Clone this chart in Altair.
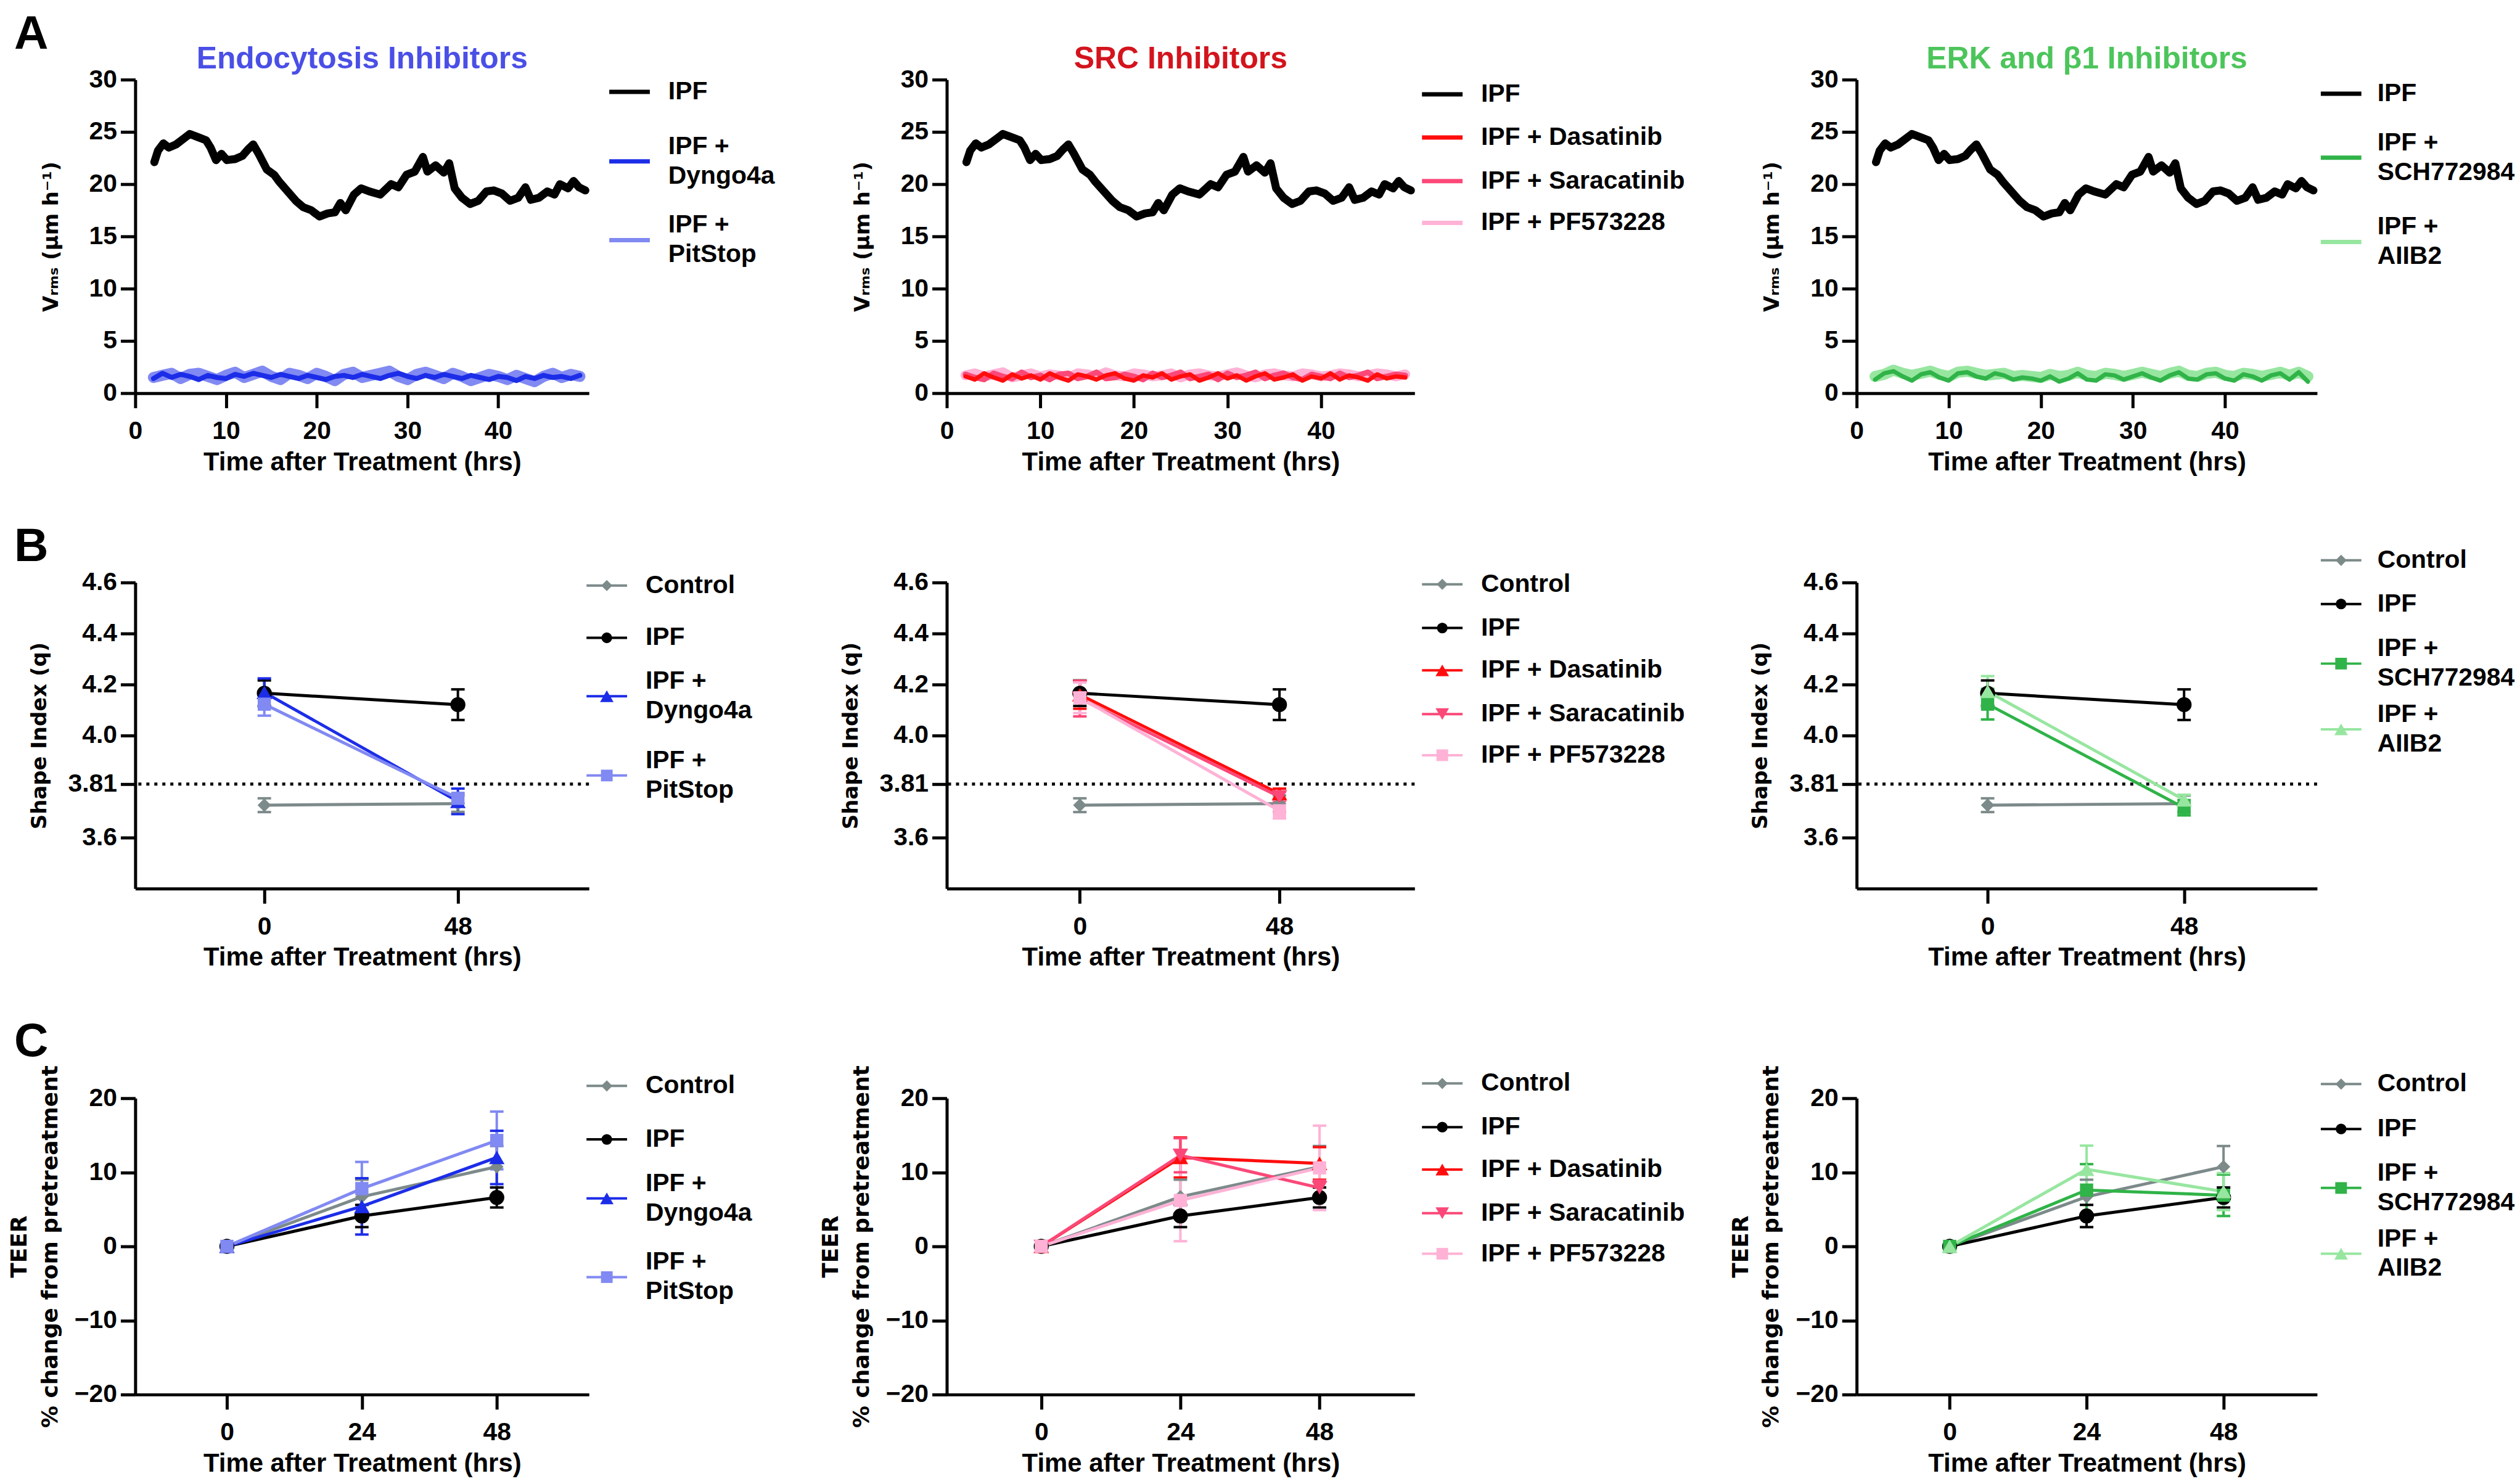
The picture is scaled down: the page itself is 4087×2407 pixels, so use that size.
import altair as alt
import pandas as pd

FONT = "Liberation Sans, Arial, Helvetica, sans-serif"
WIDE = "DejaVu Sans, Verdana, sans-serif"

# ---------------- colours ----------------
BLACK = "#000000"
GREY = "#7d8a8a"
BLUE = "#1c2de8"
LIGHT_BLUE = "#8189f2"
RED = "#ff0d0d"
ROSE = "#fb4878"
PINK = "#ffb2d6"
GREEN = "#30b348"
LIGHT_GREEN = "#97e6a0"
TITLE_BLUE = "#4a4fe6"
TITLE_RED = "#d3141d"
TITLE_GREEN = "#4cc55b"

# ---------------- panel A : V_RMS time courses ----------------
VRMS_IPF_T = [2.1, 2.5, 3.1, 3.7, 4.5, 5.4, 6.0, 6.9, 7.8, 8.3, 8.9, 9.5, 10.1, 11.0, 11.8,
              12.4, 13.0, 13.6, 14.5, 15.3, 15.9, 16.8, 17.7, 18.5, 19.4, 20.3, 21.2, 22.0,
              22.6, 23.2, 24.1, 24.9, 25.8, 27.0, 28.2, 29.0, 29.9, 30.8, 31.7, 32.2, 33.1,
              34.0, 34.6, 35.2, 36.0, 36.9, 37.8, 38.7, 39.5, 40.4, 41.3, 42.2, 43.0, 43.6,
              44.5, 45.4, 46.2, 46.8, 47.7, 48.3, 48.9, 49.6]
VRMS_IPF = [22.1, 23.2, 23.9, 23.5, 23.8, 24.4, 24.8, 24.5, 24.2, 23.5, 22.3, 22.9, 22.3, 22.4,
            22.7, 23.3, 23.8, 22.9, 21.4, 20.9, 20.2, 19.3, 18.4, 17.8, 17.5, 16.9, 17.2, 17.3,
            18.2, 17.5, 19.0, 19.6, 19.3, 19.0, 20.0, 19.7, 20.9, 21.2, 22.6, 21.2, 21.8, 21.1,
            22.0, 19.6, 18.7, 18.1, 18.4, 19.3, 19.4, 19.1, 18.4, 18.7, 19.7, 18.5, 18.7, 19.3,
            19.0, 20.0, 19.6, 20.3, 19.7, 19.4]
VRMS_T = [2, 3, 4, 5, 6, 7, 8, 9, 10, 11, 12, 13, 14, 15, 16, 17, 18, 19, 20, 21, 22, 23, 24, 25,
          26, 27, 28, 29, 30, 31, 32, 33, 34, 35, 36, 37, 38, 39, 40, 41, 42, 43, 44, 45, 46, 47,
          48, 49]
VRMS_DYNGO = [1.4, 1.9, 1.5, 1.8, 1.6, 1.3, 1.7, 1.5, 1.4, 1.8, 1.6, 1.9, 1.7, 1.5, 1.8, 1.6,
              1.4, 1.7, 1.5, 1.3, 1.6, 1.7, 1.5, 1.8, 1.6, 1.4, 1.7, 1.9, 1.6, 1.4, 1.7, 1.5,
              1.8, 1.6, 1.4, 1.7, 1.5, 1.3, 1.6, 1.5, 1.2, 1.6, 1.4, 1.7, 1.5, 1.6, 1.4, 1.7]
VRMS_PITSTOP = [1.5, 1.7, 1.9, 1.4, 1.8, 1.9, 1.6, 1.3, 1.7, 2.0, 1.5, 1.8, 2.1, 1.6, 1.3, 1.9,
                1.7, 1.4, 1.9, 1.6, 1.2, 1.8, 2.0, 1.5, 1.7, 1.9, 2.1, 1.6, 1.3, 1.8, 2.0, 1.7,
                1.4, 1.9, 1.6, 1.2, 1.5, 1.8, 1.6, 1.3, 1.7, 1.4, 1.1, 1.6, 1.9, 1.5, 1.8, 1.6]
VRMS_DASATINIB = [1.6, 1.3, 1.9, 1.5, 1.2, 1.8, 1.4, 1.7, 1.3, 1.9, 1.5, 1.2, 1.8, 1.6, 1.3, 1.7,
                  1.9, 1.4, 1.2, 1.7, 1.5, 1.9, 1.3, 1.6, 1.8, 1.2, 1.5, 1.9, 1.4, 1.7, 1.2, 1.6,
                  1.9, 1.3, 1.5, 1.8, 1.2, 1.6, 1.4, 1.9, 1.3, 1.7, 1.5, 1.2, 1.8, 1.4, 1.6, 1.5]
VRMS_SARACATINIB = [1.8, 1.5, 1.3, 1.9, 1.6, 1.4, 2.0, 1.5, 1.7, 1.3, 1.8, 1.9, 1.4, 1.6, 2.0, 1.4,
                    1.5, 1.8, 1.6, 1.3, 1.9, 1.5, 1.7, 2.0, 1.4, 1.6, 1.8, 1.3, 1.9, 1.5, 1.7, 2.0,
                    1.4, 1.7, 1.9, 1.5, 1.3, 1.8, 1.6, 1.4, 1.9, 1.5, 1.7, 2.0, 1.4, 1.6, 1.8, 1.7]
VRMS_PF = [1.7, 1.9, 1.6, 1.8, 2.0, 1.5, 1.7, 1.9, 1.6, 1.8, 1.7, 1.5, 1.9, 1.8, 1.6, 2.0,
           1.7, 1.6, 1.9, 1.8, 1.6, 1.7, 1.9, 1.5, 1.8, 1.9, 1.7, 1.6, 1.8, 2.0, 1.7, 1.5,
           1.8, 1.9, 1.7, 1.6, 1.9, 1.8, 1.6, 1.7, 1.9, 1.8, 1.6, 1.7, 1.9, 1.8, 1.6, 1.8]
VRMS_SCH = [1.3, 1.9, 2.1, 1.6, 1.2, 1.8, 2.0, 1.5, 1.2, 1.9, 2.0, 1.6, 1.4, 1.9, 1.7, 1.3,
            1.5, 1.4, 1.2, 1.6, 1.1, 1.4, 1.9, 1.3, 1.2, 1.8, 1.7, 1.3, 1.6, 1.9, 1.5, 1.2,
            1.7, 2.0, 1.4, 1.3, 1.8, 1.9, 1.4, 1.2, 1.8, 1.6, 1.2, 1.7, 1.9, 1.3, 2.0, 1.1]
VRMS_AIIB2 = [1.6, 1.8, 2.2, 1.9, 1.7, 1.9, 2.1, 1.8, 1.6, 2.0, 2.1, 1.9, 1.7, 1.8, 1.9, 1.6,
              1.7, 1.6, 1.5, 1.8, 1.6, 1.7, 2.0, 1.7, 1.6, 1.9, 1.8, 1.6, 1.8, 2.0, 1.8, 1.6,
              1.9, 2.1, 1.7, 1.6, 1.9, 2.0, 1.7, 1.6, 1.9, 1.8, 1.6, 1.8, 2.0, 1.7, 2.0, 1.6]

# ---------------- panel B : shape index ----------------
SHAPE_T = [0, 48]
SHAPE_CONTROL = [3.727, 3.733]
SHAPE_CONTROL_ERR = [0.027, 0.032]
SHAPE_IPF = [4.166, 4.121]
SHAPE_IPF_ERR = [0.05, 0.06]
SHAPE_DYNGO = [4.169, 3.742]
SHAPE_DYNGO_ERR = [0.055, 0.05]
SHAPE_PITSTOP = [4.123, 3.754]
SHAPE_PITSTOP_ERR = [0.045, 0.02]
SHAPE_DASATINIB = [4.16, 3.772]
SHAPE_DASATINIB_ERR = [0.055, 0.02]
SHAPE_SARACATINIB = [4.145, 3.76]
SHAPE_SARACATINIB_ERR = [0.07, 0.02]
SHAPE_PF = [4.148, 3.705]
SHAPE_PF_ERR = [0.06, 0.03]
SHAPE_SCH = [4.123, 3.717]
SHAPE_SCH_ERR = [0.06, 0.03]
SHAPE_AIIB2 = [4.173, 3.748]
SHAPE_AIIB2_ERR = [0.06, 0.02]
SHAPE_TICKS = [3.6, 3.81, 4.0, 4.2, 4.4, 4.6]

# ---------------- panel C : TEER ----------------
TEER_T = [0, 24, 48]
TEER_CONTROL = [0, 6.7, 10.75]
TEER_CONTROL_ERR = [0, 2.3, 2.8]
TEER_IPF = [0, 4.1, 6.6]
TEER_IPF_ERR = [0, 1.5, 1.35]
TEER_DYNGO = [0, 5.4, 12.0]
TEER_DYNGO_ERR = [0, 3.8, 3.6]
TEER_PITSTOP = [0, 7.8, 14.3]
TEER_PITSTOP_ERR = [0, 3.6, 3.9]
TEER_DASATINIB = [0, 12.0, 11.2]
TEER_DASATINIB_ERR = [0, 2.7, 2.2]
TEER_SARACATINIB = [0, 12.3, 7.9]
TEER_SARACATINIB_ERR = [0, 2.3, 1.0]
TEER_PF = [0, 6.2, 10.6]
TEER_PF_ERR = [0, 5.5, 5.7]
TEER_SCH = [0, 7.6, 6.9]
TEER_SCH_ERR = [0, 3.5, 2.8]
TEER_AIIB2 = [0, 10.4, 7.4]
TEER_AIIB2_ERR = [0, 3.2, 2.5]

XTITLE = "Time after Treatment (hrs)"
VRMS_TITLE = "V\u1d63\u2098\u209b (\u03bcm h\u207b\u00b9)"
LEGEND_MARKER_SIZE = {"diamond": 330, "circle": 300, "square": 360, "triangle-up": 480,
                      "triangle-down": 480}
PLOT_MARKER_SIZE = {"diamond": 480, "circle": 600, "square": 460, "triangle-up": 640,
                    "triangle-down": 640}


def long_df(names, times, values, errs=None):
    rows = []
    for i, name in enumerate(names):
        for j, t in enumerate(times[i]):
            v = values[i][j]
            r = {"g": name, "t": t, "v": v}
            if errs is not None:
                r["lo"] = v - errs[i][j]
                r["hi"] = v + errs[i][j]
            rows.append(r)
    return pd.DataFrame(rows)


ONE = pd.DataFrame({"k": [0]})


def text_layer(text, x, y, size, color, opacity=1.0, align="left", baseline="alphabetic"):
    return alt.Chart(ONE).mark_text(
        text=text, font=FONT, fontSize=size, fontWeight="bold", color=color,
        opacity=opacity, align=align, baseline=baseline
    ).encode(x=alt.value(x), y=alt.value(y))


def legend_layers(names, colors, shapes, lx, centers, two_line, off, lw):
    """Key to the right of a panel: a line (with its marker) and the group name."""
    out = []
    for name, color, shp, yc in zip(names, colors, shapes, centers):
        out.append(alt.Chart(ONE).mark_rule(color=color, strokeWidth=lw).encode(
            x=alt.value(lx), x2=alt.value(lx + 66), y=alt.value(yc)))
        if shp:
            out.append(alt.Chart(ONE).mark_point(
                shape=shp, filled=True, opacity=1, color=color,
                size=LEGEND_MARKER_SIZE[shp]).encode(x=alt.value(lx + 33), y=alt.value(yc)))
        tx = lx + 66 + off
        if two_line and " + " in name:
            out.append(text_layer("IPF +", tx, yc - 24, 41, BLACK, baseline="middle"))
            out.append(text_layer(name[6:], tx, yc + 24, 41, BLACK, baseline="middle"))
        else:
            out.append(text_layer(name, tx, yc, 41, BLACK, baseline="middle"))
    return out


def panel_a(names, colors, widths, draw_order, times, values, title, title_color,
            w, h, letter, letter_x, letter_vis, lx, centers, two_line, off=30):
    df = long_df(names, times, values)
    xs = alt.X("t:Q", scale=alt.Scale(domain=[0, 50], nice=False, zero=False),
               axis=alt.Axis(values=[0, 10, 20, 30, 40], title=XTITLE))
    ys = alt.Y("v:Q", scale=alt.Scale(domain=[0, 30], nice=False),
               axis=alt.Axis(values=[0, 5, 10, 15, 20, 25, 30], title=VRMS_TITLE, titlePadding=44))
    col = alt.Color("g:N", scale=alt.Scale(domain=names, range=colors), legend=None)
    layers = []
    for name in draw_order:
        sw = widths[names.index(name)]
        layers.append(alt.Chart(df).transform_filter(alt.datum.g == name).mark_line(
            strokeWidth=sw, strokeJoin="round", strokeCap="round").encode(x=xs, y=ys, color=col))
    layers += legend_layers(names, colors, [None] * len(names), lx, centers, two_line, off, 7)
    layers.append(text_layer(letter, letter_x, -50, 77, BLACK, 1.0 if letter_vis else 0.0))
    layers.append(text_layer(title, w / 2, -18, 50, title_color, align="center"))
    return alt.layer(*layers).properties(width=w, height=h)


def panel_pts(kind, names, colors, shapes, values, errs, w, h,
              letter, letter_x, letter_y, letter_vis, lx, centers, two_line, off=30):
    if kind == "B":
        times = SHAPE_T
        xs_scale = alt.Scale(domain=[-32, 80.5], nice=False, zero=False)
        xvals = [0, 48]
        ys_scale = alt.Scale(domain=[3.4, 4.6], nice=False, zero=False)
        yaxis = alt.Axis(values=SHAPE_TICKS, title="Shape Index (q)", titlePadding=29,
                         labelExpr="datum.value == 3.81 ? '3.81' : format(datum.value, '.1f')")
    else:
        times = TEER_T
        xs_scale = alt.Scale(domain=[-16.3, 64.4], nice=False, zero=False)
        xvals = [0, 24, 48]
        ys_scale = alt.Scale(domain=[-20, 20], nice=False)
        yaxis = alt.Axis(values=[-20, -10, 0, 10, 20], title=["TEER", "% change from pretreatment"],
                         titlePadding=20, titleLineHeight=50, titleFontSize=36)
    df = long_df(names, [times] * len(names), values, errs)
    xaxis = alt.Axis(values=xvals, title=XTITLE)

    def X(f="t"):
        return alt.X(f + ":Q", scale=xs_scale, axis=xaxis)

    def Y(f):
        return alt.Y(f + ":Q", scale=ys_scale, axis=yaxis)

    col = alt.Color("g:N", scale=alt.Scale(domain=names, range=colors), legend=None)
    base = alt.Chart(df)
    layers = []
    if kind == "B":
        layers.append(alt.Chart(pd.DataFrame({"v": [3.81]})).mark_rule(
            color=BLACK, strokeDash=[5, 8], strokeWidth=5).encode(y=Y("v")))
    layers.append(base.mark_rule(strokeWidth=4).encode(x=X(), y=Y("lo"), y2="hi:Q", color=col))
    layers.append(base.mark_tick(orient="horizontal", size=22, thickness=4, opacity=1).encode(
        x=X(), y=Y("lo"), color=col))
    layers.append(base.mark_tick(orient="horizontal", size=22, thickness=4, opacity=1).encode(
        x=X(), y=Y("hi"), color=col))
    layers.append(base.mark_line(strokeWidth=5).encode(x=X(), y=Y("v"), color=col))
    for name, shp in zip(names, shapes):
        layers.append(base.transform_filter(alt.datum.g == name).mark_point(
            filled=True, opacity=1, shape=shp, size=PLOT_MARKER_SIZE[shp]).encode(
            x=X(), y=Y("v"), color=col))
    layers += legend_layers(names, colors, shapes, lx, centers, two_line, off, 4)
    layers.append(text_layer(letter, letter_x, letter_y, 77, BLACK, 1.0 if letter_vis else 0.0))
    return alt.layer(*layers).properties(width=w, height=h)


# ---------------- groups ----------------
A1_NAMES = ["IPF", "IPF + Dyngo4a", "IPF + PitStop"]
A2_NAMES = ["IPF", "IPF + Dasatinib", "IPF + Saracatinib", "IPF + PF573228"]
A3_NAMES = ["IPF", "IPF + SCH772984", "IPF + AIIB2"]
B1_NAMES = ["Control", "IPF", "IPF + Dyngo4a", "IPF + PitStop"]
B2_NAMES = ["Control", "IPF", "IPF + Dasatinib", "IPF + Saracatinib", "IPF + PF573228"]
B3_NAMES = ["Control", "IPF", "IPF + SCH772984", "IPF + AIIB2"]

A_H, B_H, C_H = 510, 498, 482
W1, W2, W3 = 738, 761, 749
LX = -197

a1 = panel_a(A1_NAMES, [BLACK, BLUE, LIGHT_BLUE], [13, 8, 18],
             ["IPF + PitStop", "IPF + Dyngo4a", "IPF"],
             [VRMS_IPF_T, VRMS_T, VRMS_T], [VRMS_IPF, VRMS_DYNGO, VRMS_PITSTOP],
             "Endocytosis Inhibitors", TITLE_BLUE, W1, A_H, "A", LX, True,
             771, [20, 133, 261], True)
a2 = panel_a(A2_NAMES, [BLACK, RED, ROSE, PINK], [13, 7, 9, 16],
             ["IPF + PF573228", "IPF + Saracatinib", "IPF + Dasatinib", "IPF"],
             [VRMS_IPF_T, VRMS_T, VRMS_T, VRMS_T],
             [VRMS_IPF, VRMS_DASATINIB, VRMS_SARACATINIB, VRMS_PF],
             "SRC Inhibitors", TITLE_RED, W2, A_H, "A", 0, False,
             773, [24, 94, 165, 233], False)
a3 = panel_a(A3_NAMES, [BLACK, GREEN, LIGHT_GREEN], [13, 7, 18],
             ["IPF + AIIB2", "IPF + SCH772984", "IPF"],
             [VRMS_IPF_T, VRMS_T, VRMS_T], [VRMS_IPF, VRMS_SCH, VRMS_AIIB2],
             "ERK and \u03b21 Inhibitors", TITLE_GREEN, W3, A_H, "A", 0, False,
             755, [23, 127, 264], True, off=26)

b1 = panel_pts("B", B1_NAMES, [GREY, BLACK, BLUE, LIGHT_BLUE],
               ["diamond", "circle", "triangle-up", "square"],
               [SHAPE_CONTROL, SHAPE_IPF, SHAPE_DYNGO, SHAPE_PITSTOP],
               [SHAPE_CONTROL_ERR, SHAPE_IPF_ERR, SHAPE_DYNGO_ERR, SHAPE_PITSTOP_ERR],
               W1, B_H, "B", LX, -35, True, 734, [5, 90, 185, 314], True)
b2 = panel_pts("B", B2_NAMES, [GREY, BLACK, RED, ROSE, PINK],
               ["diamond", "circle", "triangle-up", "triangle-down", "square"],
               [SHAPE_CONTROL, SHAPE_IPF, SHAPE_DASATINIB, SHAPE_SARACATINIB, SHAPE_PF],
               [SHAPE_CONTROL_ERR, SHAPE_IPF_ERR, SHAPE_DASATINIB_ERR, SHAPE_SARACATINIB_ERR,
                SHAPE_PF_ERR],
               W2, B_H, "B", 0, -35, False, 773, [3, 74, 143, 214, 281], False)
b3 = panel_pts("B", B3_NAMES, [GREY, BLACK, GREEN, LIGHT_GREEN],
               ["diamond", "circle", "square", "triangle-up"],
               [SHAPE_CONTROL, SHAPE_IPF, SHAPE_SCH, SHAPE_AIIB2],
               [SHAPE_CONTROL_ERR, SHAPE_IPF_ERR, SHAPE_SCH_ERR, SHAPE_AIIB2_ERR],
               W3, B_H, "B", 0, -35, False, 755, [-36, 35, 132, 239], True, off=26)

c1 = panel_pts("C", B1_NAMES, [GREY, BLACK, BLUE, LIGHT_BLUE],
               ["diamond", "circle", "triangle-up", "square"],
               [TEER_CONTROL, TEER_IPF, TEER_DYNGO, TEER_PITSTOP],
               [TEER_CONTROL_ERR, TEER_IPF_ERR, TEER_DYNGO_ERR, TEER_PITSTOP_ERR],
               W1, C_H, "C", LX, -68, True, 734, [-20, 67, 163, 291], True)
c2 = panel_pts("C", B2_NAMES, [GREY, BLACK, RED, ROSE, PINK],
               ["diamond", "circle", "triangle-up", "triangle-down", "square"],
               [TEER_CONTROL, TEER_IPF, TEER_DASATINIB, TEER_SARACATINIB, TEER_PF],
               [TEER_CONTROL_ERR, TEER_IPF_ERR, TEER_DASATINIB_ERR, TEER_SARACATINIB_ERR,
                TEER_PF_ERR],
               W2, C_H, "C", 0, -68, False, 773, [-24, 47, 116, 187, 253], False)
c3 = panel_pts("C", B3_NAMES, [GREY, BLACK, GREEN, LIGHT_GREEN],
               ["diamond", "circle", "square", "triangle-up"],
               [TEER_CONTROL, TEER_IPF, TEER_SCH, TEER_AIIB2],
               [TEER_CONTROL_ERR, TEER_IPF_ERR, TEER_SCH_ERR, TEER_AIIB2_ERR],
               W3, C_H, "C", 0, -68, False, 755, [-23, 50, 146, 253], True, off=26)

chart = alt.concat(
    a1, a2, a3, b1, b2, b3, c1, c2, c3,
    columns=3,
    spacing=alt.RowColnumber(row=78, column=72),
    align="each",
    bounds="full",
    padding={"left": 5, "top": 6, "right": 0, "bottom": 0},
).resolve_scale(
    x="independent", y="independent", color="independent"
).resolve_axis(x="independent", y="independent")

chart = chart.configure_view(stroke=None).configure_axis(
    domainColor=BLACK, domainWidth=5, tickColor=BLACK, tickWidth=5, tickSize=24,
    labelFont=FONT, labelFontSize=41, labelFontWeight="bold", labelColor=BLACK,
    labelPadding=6, labelFlush=False, labelOverlap=False, labelBound=False,
    titleFont=FONT, titleFontSize=42, titleFontWeight="bold", titleColor=BLACK, grid=False
).configure_axisX(labelPadding=18, titlePadding=10).configure_axisY(
    titleFont=WIDE, titleFontSize=34
)

chart.save("out.html", embed_options={"renderer": "svg", "actions": False})
